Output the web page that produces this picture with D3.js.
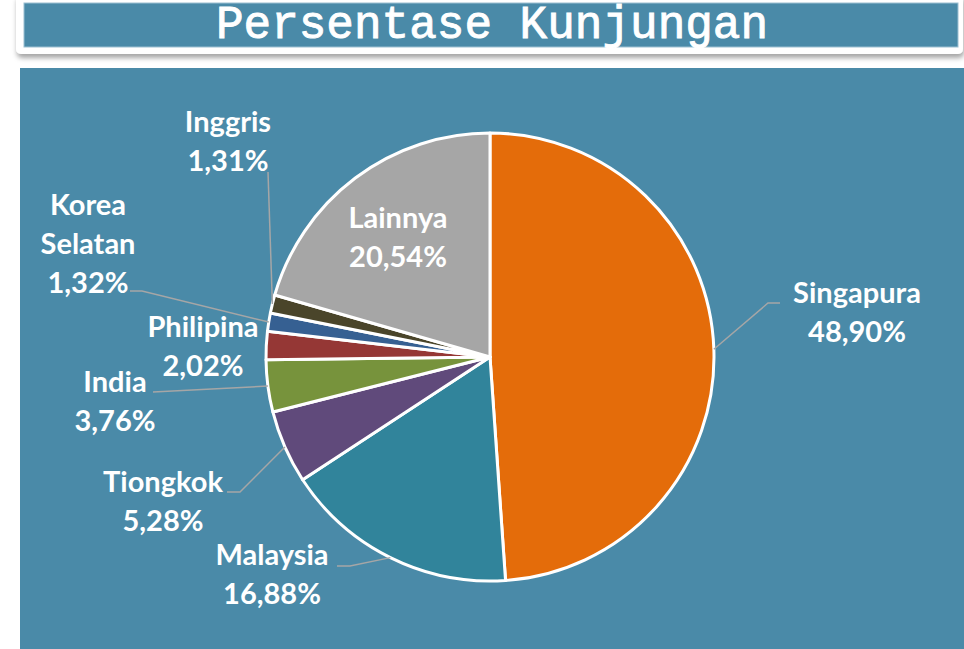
<!DOCTYPE html>
<html>
<head>
<meta charset="utf-8">
<script src="https://cdn.jsdelivr.net/npm/d3@7"></script>
<style>
  html, body { margin: 0; padding: 0; background: #ffffff; }
  svg { display: block; }
</style>
</head>
<body>
<svg id="chart" width="964" height="649"></svg>
<script>
// Visitor share by country of origin (percent)
const countries = ["Singapura", "Malaysia", "Tiongkok", "India", "Philipina", "Korea Selatan", "Inggris", "Lainnya"];
const shares = [48.90, 16.88, 5.28, 3.76, 2.02, 1.32, 1.31, 20.54];
const sliceColors = ["#E46C0A", "#31849B", "#604A7B", "#77933C", "#953735", "#366092", "#4A452A", "#A6A6A6"];

// Label text split into lines
const labelLines = [
  ["Singapura"], ["Malaysia"], ["Tiongkok"], ["India"], ["Philipina"], ["Korea", "Selatan"], ["Inggris"], ["Lainnya"]
];

// Label placement: centre x, first baseline, and the label end of each leader line
const labelLayout = [
  { x: 857, y: 303, leader: [[780, 303], [768, 303]] },
  { x: 272, y: 565, leader: [[337, 566], [350, 566]] },
  { x: 163, y: 492, leader: [[227, 492], [240, 492]] },
  { x: 115, y: 392, leader: [[153, 392]] },
  { x: 203, y: 337, leader: null },
  { x: 88,  y: 215, leader: [[130, 291], [142, 291]] },
  { x: 228, y: 132, leader: [[268, 172]] },
  { x: 398, y: 228, leader: null }
];

const fmt = v => v.toFixed(2).replace(".", ",") + "%";

const svg = d3.select("#chart");
const W = 964, H = 649;

// Drop shadow for the title card
const defs = svg.append("defs");
const f = defs.append("filter").attr("id", "shadow")
  .attr("x", "-5%").attr("y", "-30%").attr("width", "110%").attr("height", "180%");
f.append("feDropShadow").attr("dx", 1).attr("dy", 4).attr("stdDeviation", 2.5)
  .attr("flood-color", "#000").attr("flood-opacity", 0.35);

// Title card
svg.append("rect")
  .attr("x", 16).attr("y", -6).attr("width", 947).attr("height", 60)
  .attr("rx", 5).attr("fill", "#ffffff").attr("filter", "url(#shadow)");
svg.append("rect")
  .attr("x", 24).attr("y", 3).attr("width", 934).attr("height", 44)
  .attr("fill", "#4A8AA8").attr("stroke", "#9cc0d2").attr("stroke-width", 1);
svg.append("text")
  .attr("x", 492).attr("y", 38)
  .attr("text-anchor", "middle")
  .attr("font-family", "'Courier New', 'Liberation Mono', monospace")
  .attr("font-size", 46)
  .attr("fill", "#ffffff")
  .attr("stroke", "#ffffff")
  .attr("stroke-width", 0.9)
  .text("Persentase Kunjungan");

// Chart panel
svg.append("rect")
  .attr("x", 20).attr("y", 68).attr("width", W - 20).attr("height", H - 68)
  .attr("fill", "#4A8AA8");

// Pie
const cx = 490, cy = 357, R = 224;
const data = countries.map((c, i) => ({ name: c, value: shares[i], color: sliceColors[i], lines: labelLines[i], layout: labelLayout[i] }));

const pie = d3.pie().value(d => d.value).sort(null);
const arcs = pie(data);
const arc = d3.arc().innerRadius(0).outerRadius(R);

const g = svg.append("g").attr("transform", `translate(${cx},${cy})`);

g.selectAll("path.slice")
  .data(arcs)
  .join("path")
  .attr("class", "slice")
  .attr("d", arc)
  .attr("fill", d => d.data.color)
  .attr("stroke", "#ffffff")
  .attr("stroke-width", 3)
  .attr("stroke-linejoin", "round");

// Leader lines from the slice edge at its mid-angle to the label
const edgePoint = d => {
  const a = (d.startAngle + d.endAngle) / 2;
  return [cx + R * Math.sin(a), cy - R * Math.cos(a)];
};
const line = d3.line();
svg.selectAll("path.leader")
  .data(arcs.filter(d => d.data.layout.leader))
  .join("path")
  .attr("class", "leader")
  .attr("d", d => line([...d.data.layout.leader, edgePoint(d)]))
  .attr("fill", "none")
  .attr("stroke", "#A6A6A6")
  .attr("stroke-width", 1.5);

// Labels
const lineGap = 39;
const labels = svg.selectAll("text.lbl")
  .data(arcs)
  .join("text")
  .attr("class", "lbl")
  .attr("text-anchor", "middle")
  .attr("font-family", "Lato, 'Open Sans', sans-serif")
  .attr("font-weight", "bold")
  .attr("font-size", 29)
  .attr("fill", "#ffffff");

labels.each(function (d) {
  const t = d3.select(this);
  const rows = [...d.data.lines, fmt(d.data.value)];
  rows.forEach((r, i) => {
    t.append("tspan")
      .attr("x", d.data.layout.x)
      .attr("y", d.data.layout.y + i * lineGap)
      .text(r);
  });
});
</script>
</body>
</html>
